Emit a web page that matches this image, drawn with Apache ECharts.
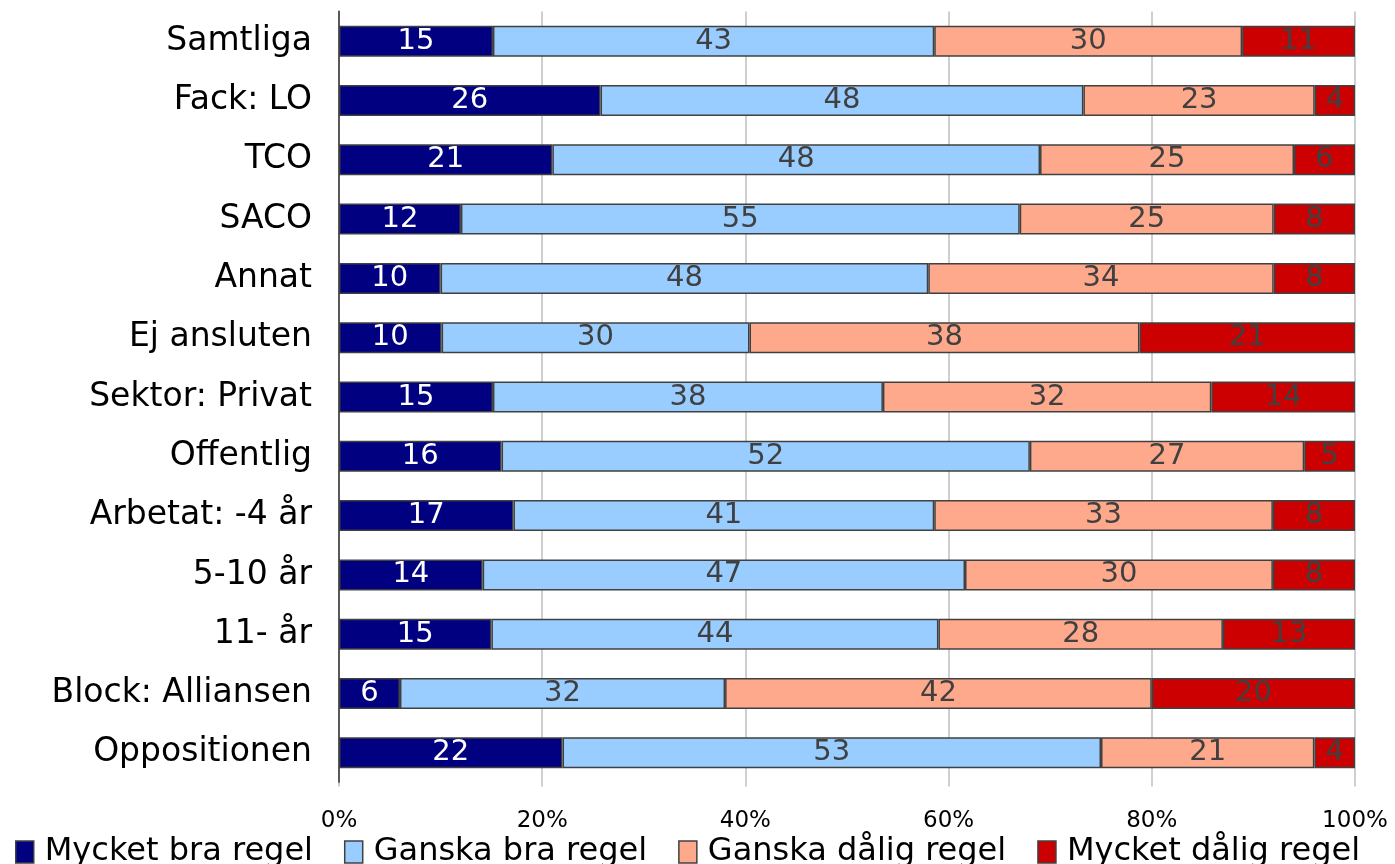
<!DOCTYPE html>
<html>
<head>
<meta charset="utf-8">
<script src="https://cdn.jsdelivr.net/npm/echarts@6/dist/echarts.min.js"></script>
<style>
  html, body { margin: 0; padding: 0; background: #ffffff; }
  #chart { width: 1395px; height: 864px; }
</style>
</head>
<body>
<div id="chart"></div>
<script>
// kategorier, uppifrån och ned
const categories = [
  "Samtliga", "Fack: LO", "TCO", "SACO", "Annat", "Ej ansluten",
  "Sektor: Privat", "Offentlig", "Arbetat: -4 år", "5-10 år", "11- år",
  "Block: Alliansen", "Oppositionen"
];
const seriesNames = ["Mycket bra regel", "Ganska bra regel", "Ganska dålig regel", "Mycket dålig regel"];
const mycketBra   = [15, 26, 21, 12, 10, 10, 15, 16, 17, 14, 15, 6, 22];
const ganskaBra   = [43, 48, 48, 55, 48, 30, 38, 52, 41, 47, 44, 32, 53];
const ganskaDalig = [30, 23, 25, 25, 34, 38, 32, 27, 33, 30, 28, 42, 21];
const mycketDalig = [11, 4, 6, 8, 8, 21, 14, 5, 8, 8, 13, 20, 4];
const xTicks = [0, 20, 40, 60, 80, 100];

const colors = ["#000080", "#99ccff", "#ffa98c", "#cc0000"];
const labelColors = ["#ffffff", "#404040", "#404040", "#404040"];
const allValues = [mycketBra, ganskaBra, ganskaDalig, mycketDalig];

// 100%-staplar: normera varje rad till summan
const totals = categories.map((c, i) => allValues.reduce((s, arr) => s + arr[i], 0));

const series = allValues.map((arr, k) => ({
  name: seriesNames[k],
  type: "bar",
  stack: "total",
  barWidth: 31,
  itemStyle: {
    color: colors[k],
    borderColor: "#404040",
    borderWidth: 1.5
  },
  label: {
    show: true,
    position: "inside",
    fontFamily: "DejaVu Sans",
    fontSize: 29,
    color: labelColors[k],
    formatter: p => arr[p.dataIndex]
  },
  data: arr.map((v, i) => v / totals[i] * 100)
}));

const myChart = echarts.init(document.getElementById("chart"));
const option = {
  animation: false,
  textStyle: { fontFamily: "DejaVu Sans" },
  grid: {
    left: 339,
    right: 40,
    top: 11.5,
    bottom: 81.5
  },
  legend: {
    top: 831,
    left: 10,
    itemWidth: 18,
    itemHeight: 22,
    itemGap: 31,
    icon: "rect",
    itemStyle: { borderColor: "#404040", borderWidth: 1.5 },
    textStyle: { fontSize: 32, color: "#000000", fontFamily: "DejaVu Sans", padding: [0, 0, 0, 6] },
    data: seriesNames
  },
  xAxis: {
    type: "value",
    min: xTicks[0],
    max: xTicks[xTicks.length - 1],
    interval: 20,
    axisLine: { show: false },
    axisTick: { show: true, length: 4, lineStyle: { color: "#bfbfbf", width: 1.5 } },
    splitLine: { show: true, lineStyle: { color: "#bfbfbf", width: 1.5 } },
    axisLabel: {
      margin: 27,
      fontSize: 23,
      color: "#000000",
      formatter: "{value}%"
    }
  },
  yAxis: {
    type: "category",
    inverse: true,
    data: categories,
    axisLine: { show: true, lineStyle: { color: "#595959", width: 2 } },
    axisTick: { show: false },
    axisLabel: {
      margin: 27,
      fontSize: 33,
      color: "#000000"
    }
  },
  series: series
};
myChart.setOption(option);
</script>
</body>
</html>
